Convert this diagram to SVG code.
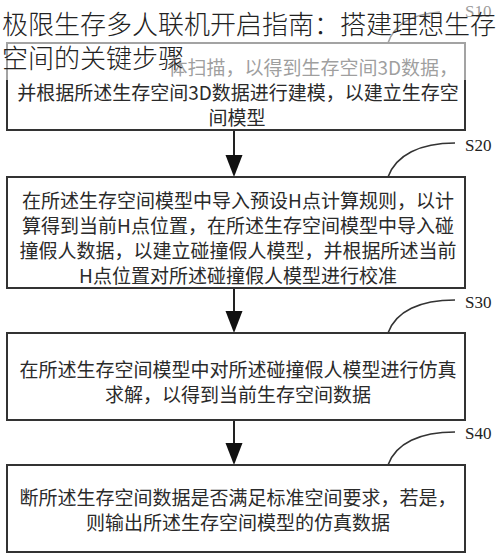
<svg xmlns="http://www.w3.org/2000/svg" width="500" height="557" viewBox="0 0 500 557">
<style>
.box{fill:#fff;stroke:#333;stroke-width:2}
.t{font-family:"Noto Sans CJK SC","Noto Sans",sans-serif;font-size:19px;fill:#2a2a2a;text-anchor:middle}
.lbl{font-family:"Liberation Serif",serif;font-size:17px;fill:#222}
.lead{fill:none;stroke:#333;stroke-width:1.6}
.conn{stroke:#222;stroke-width:2}
.title{font-family:"Noto Sans CJK SC",sans-serif;font-size:26px;font-weight:300;fill:#222}
</style>
<rect width="500" height="557" fill="#fff"/>
<g id="connectors">
<line class="conn" x1="234" y1="131" x2="234" y2="155"/><path d="M225.5,155 L242.5,155 L234,177 Z" fill="#111"/>
<line class="conn" x1="234" y1="289" x2="234" y2="311"/><path d="M225.5,311 L242.5,311 L234,333 Z" fill="#111"/>
<line class="conn" x1="234" y1="421" x2="234" y2="443"/><path d="M225.5,443 L242.5,443 L234,465 Z" fill="#111"/>
</g>
<g id="s10">
<rect class="box" x="7" y="43" width="458" height="87"/>
<path class="lead" d="M388,43 C394,25 412,14 440,12"/>
<text class="lbl" x="465" y="17">S10</text>
<text class="t" x="458" y="75" style="text-anchor:end">体扫描，以得到生存空间3D数据，</text>
<text class="t" x="238" y="100">并根据所述生存空间3D数据进行建模，以建立生存空</text>
<text class="t" x="237" y="125">间模型</text>
</g>
<g id="s20">
<rect class="box" x="7" y="177" width="458" height="111"/>
<path class="lead" d="M388,177 C396,155 420,143 455,143"/>
<text class="lbl" x="465" y="151">S20</text>
<text class="t" x="238" y="208">在所述生存空间模型中导入预设H点计算规则，以计</text>
<text class="t" x="238" y="233">算得到当前H点位置，在所述生存空间模型中导入碰</text>
<text class="t" x="238" y="258">撞假人数据，以建立碰撞假人模型，并根据所述当前</text>
<text class="t" x="238" y="283">H点位置对所述碰撞假人模型进行校准</text>
</g>
<g id="s30">
<rect class="box" x="7" y="333" width="458" height="87"/>
<path class="lead" d="M388,333 C396,311 420,300 455,300"/>
<text class="lbl" x="465" y="308">S30</text>
<text class="t" x="238" y="377">在所述生存空间模型中对所述碰撞假人模型进行仿真</text>
<text class="t" x="238" y="402">求解，以得到当前生存空间数据</text>
</g>
<g id="s40">
<rect class="box" x="7" y="465" width="458" height="87"/>
<path class="lead" d="M388,465 C396,443 420,432 455,432"/>
<text class="lbl" x="465" y="439">S40</text>
<text class="t" x="238" y="505">断所述生存空间数据是否满足标准空间要求，若是，</text>
<text class="t" x="238" y="530">则输出所述生存空间模型的仿真数据</text>
</g>
<g id="title">
<rect x="0" y="0" width="500" height="80" fill="#fff" opacity="0.55"/>
<text class="title" x="2" y="34">极限生存多人联机开启指南：搭建理想生存</text>
<text class="title" x="2" y="68">空间的关键步骤</text>
</g>
</svg>
